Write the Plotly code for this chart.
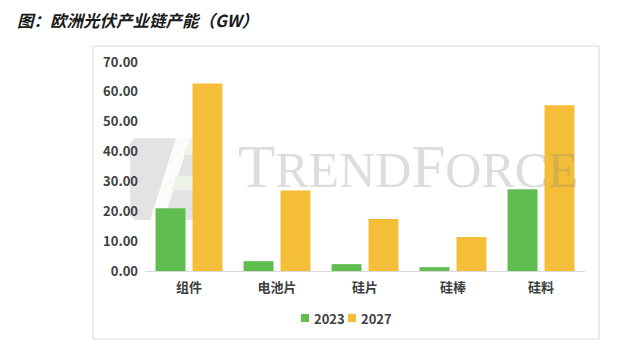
import plotly.graph_objects as go

# European PV supply-chain capacity (GW)
categories = ["组件", "电池片", "硅片", "硅棒", "硅料"]
cap_2023 = [21.0, 3.3, 2.3, 1.3, 27.4]
cap_2027 = [62.8, 27.0, 17.4, 11.4, 55.5]
series_names = ["2023", "2027"]
y_ticks = [0, 10, 20, 30, 40, 50, 60, 70]

GREEN = "#60be50"
YELLOW = "#f4be38"
TEXT = "#404040"
FONT = "Noto Sans CJK SC"

W, H = 617, 350
ML, MR, MT, MB = 145, 32, 62, 79
PW, PH = W - ML - MR, H - MT - MB


def px(x):
    return (x - ML) / PW


def py(y):
    return (H - MB - y) / PH


fig = go.Figure()
fig.add_trace(go.Bar(x=categories, y=cap_2023, name=series_names[0],
                     marker=dict(color=GREEN, line=dict(width=0))))
fig.add_trace(go.Bar(x=categories, y=cap_2027, name=series_names[1],
                     marker=dict(color=YELLOW, line=dict(width=0))))

shapes = []
# outer frame
shapes.append(dict(type="rect", xref="paper", yref="paper",
                   x0=px(93), x1=px(599), y0=py(339), y1=py(46),
                   line=dict(color="#d9d9d9", width=1), layer="below"))

# watermark logo, drawn beneath the bars
def poly(points, fill):
    d = "M" + " L".join(f"{px(a):.4f},{py(b):.4f}" for a, b in points) + " Z"
    return dict(type="path", xref="paper", yref="paper", path=d,
                fillcolor=fill, line=dict(width=0), layer="below")

shapes.append(poly([(135, 138), (208, 138), (213, 143), (213, 215), (208, 220),
                    (135, 220), (130, 215), (130, 143)], "#e3e3e3"))
shapes.append(poly([(176, 138), (190, 138), (164, 220), (150, 220)], "#fbfcf9"))
shapes.append(poly([(190, 138), (213, 138), (213, 155), (184, 155)], "#edf3e6"))
shapes.append(poly([(176, 176), (208, 176), (204, 190), (172, 190)], "#edf3e6"))

# legend swatches
shapes.append(dict(type="rect", xref="paper", yref="paper",
                   x0=px(301), x1=px(309), y0=py(322), y1=py(314),
                   fillcolor=GREEN, line=dict(width=0)))
shapes.append(dict(type="rect", xref="paper", yref="paper",
                   x0=px(348), x1=px(356), y0=py(322), y1=py(314),
                   fillcolor=YELLOW, line=dict(width=0)))

annotations = [
    dict(text="<b><i>图：欧洲光伏产业链产能（GW）</i></b>", xref="paper", yref="paper",
         x=px(15), y=py(20), xanchor="left", yanchor="middle", showarrow=False,
         font=dict(family=FONT, size=16.5, color="#1a1a1a")),
    dict(text='T<span style="font-size:50px">REND</span>F<span style="font-size:50px">ORCE</span>',
         xref="paper", yref="paper", x=px(236), y=py(202), xanchor="left", yanchor="bottom",
         showarrow=False,
         font=dict(family="Liberation Serif", size=61, color="rgba(128,128,128,0.27)")),
    dict(text=f"<b>{series_names[0]}</b>", xref="paper", yref="paper",
         x=px(312), y=py(318), xanchor="left", yanchor="middle", showarrow=False,
         font=dict(family=FONT, size=13, color=TEXT)),
    dict(text=f"<b>{series_names[1]}</b>", xref="paper", yref="paper",
         x=px(359), y=py(318), xanchor="left", yanchor="middle", showarrow=False,
         font=dict(family=FONT, size=13, color=TEXT)),
]

fig.update_layout(
    width=W, height=H,
    margin=dict(l=ML, r=MR, t=MT, b=MB),
    paper_bgcolor="white", plot_bgcolor="rgba(0,0,0,0)",
    barmode="group", bargap=0.16, bargroupgap=0.19,
    showlegend=False,
    shapes=shapes, annotations=annotations,
    font=dict(family=FONT, color=TEXT),
)
fig.update_xaxes(
    showline=True, linecolor="#d9d9d9", linewidth=1, showgrid=False,
    ticks="", tickfont=dict(family=FONT, size=13, color=TEXT),
    tickvals=categories, ticktext=[f"<b>{c}</b>" for c in categories],
    ticklabelstandoff=4,
)
fig.update_yaxes(
    range=[0, 70], tickvals=y_ticks, ticktext=[f"<b>{v:.2f}</b>" for v in y_ticks],
    showgrid=False, showline=False, zeroline=False, ticks="",
    tickfont=dict(family=FONT, size=13, color=TEXT), ticklabelstandoff=6,
)

fig.write_html("out.html")
